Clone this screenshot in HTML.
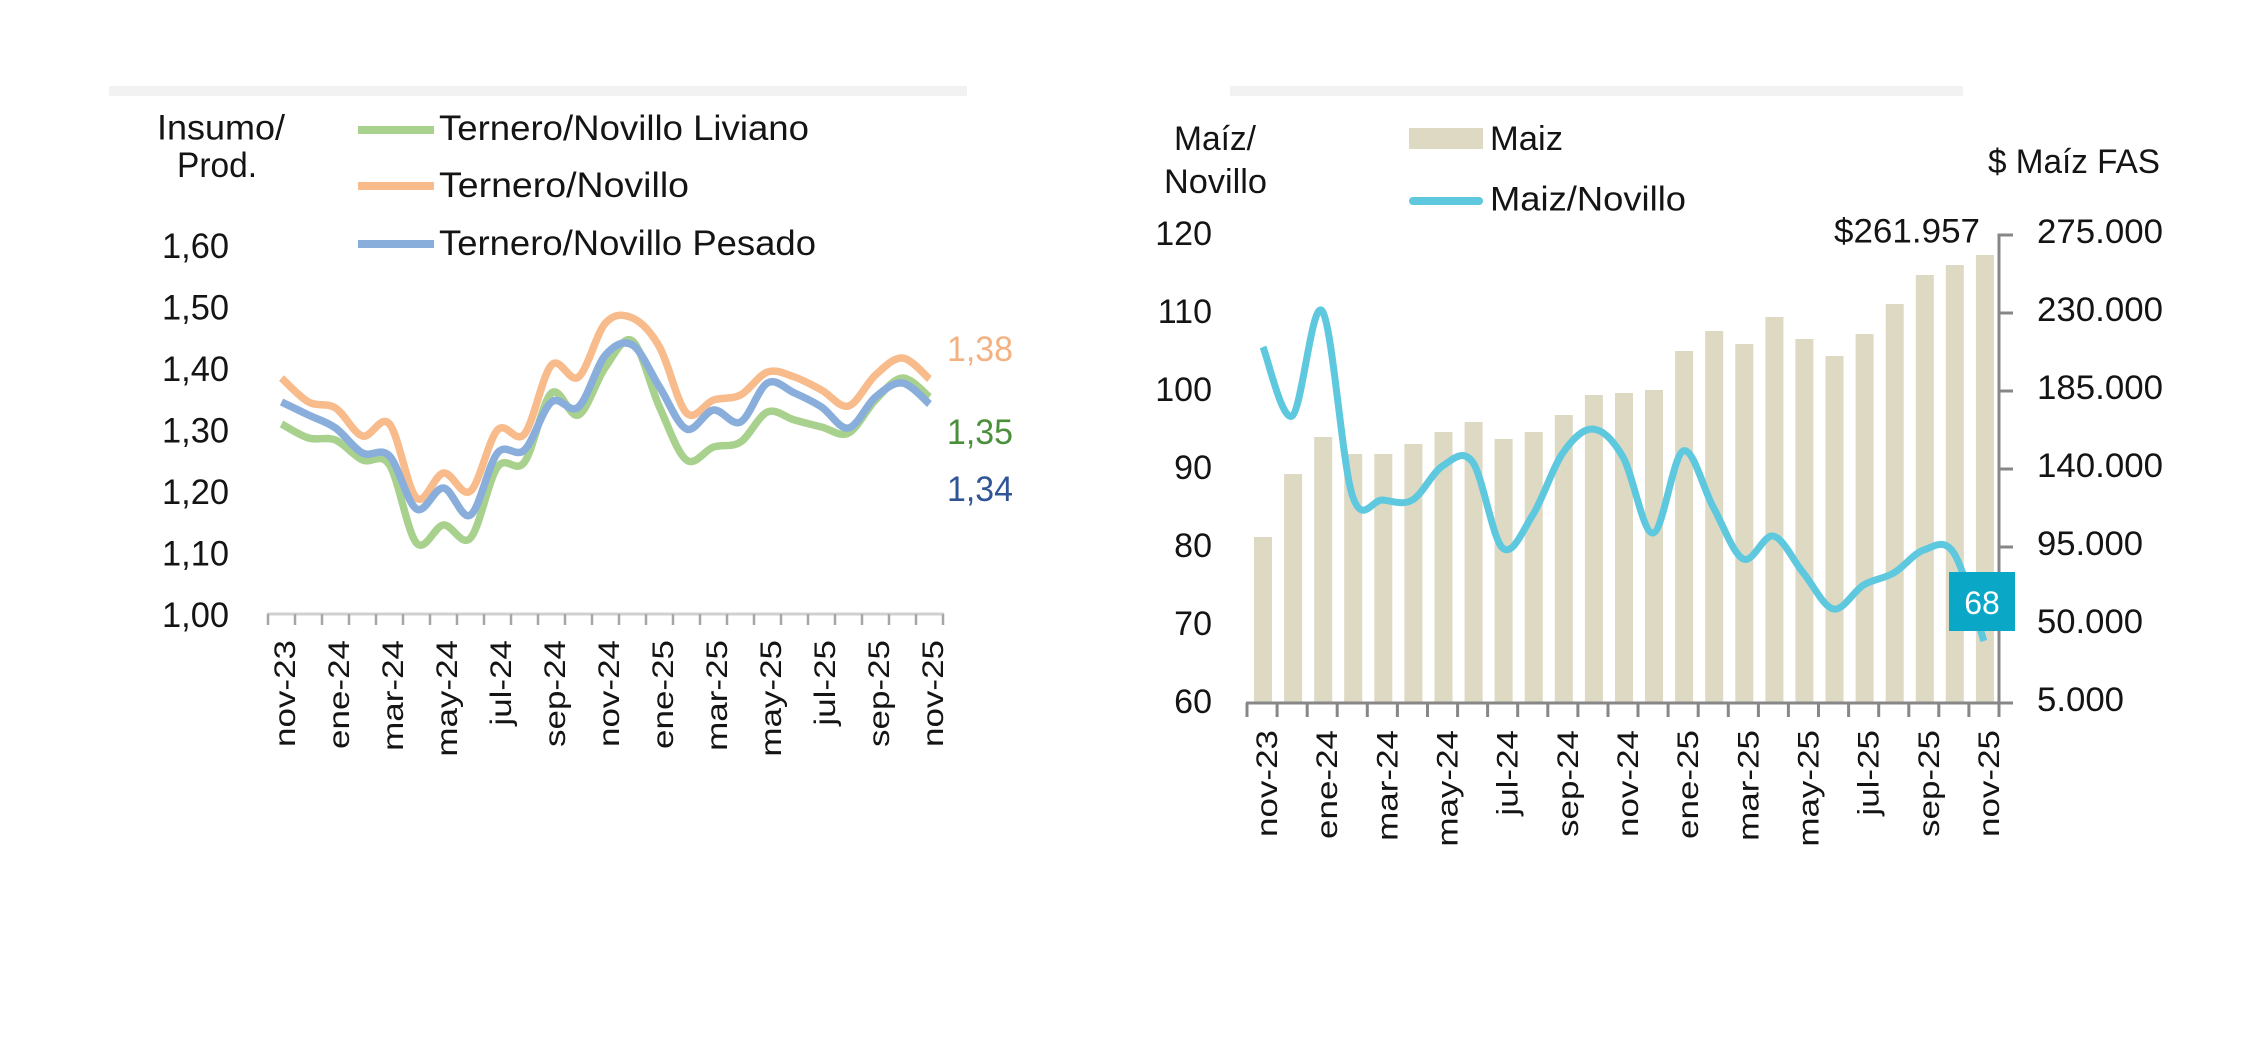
<!DOCTYPE html>
<html>
<head>
<meta charset="utf-8">
<style>
  html,body{margin:0;padding:0;background:#ffffff;}
  body{width:2250px;height:1056px;overflow:hidden;}
  svg{display:block;}
  text{font-family:"Liberation Sans",Arial,sans-serif;fill:#141414;}
</style>
</head>
<body>
<svg width="2250" height="1056" viewBox="0 0 2250 1056" xmlns="http://www.w3.org/2000/svg">
  <rect x="0" y="0" width="2250" height="1056" fill="#ffffff"/>

  <!-- ================= LEFT CHART ================= -->
  <rect x="109" y="86" width="858" height="10" fill="#f2f2f2"/>

  <text x="221" y="139.5" font-size="35" text-anchor="middle" textLength="128" lengthAdjust="spacingAndGlyphs">Insumo/</text>
  <text x="217" y="177" font-size="35" text-anchor="middle" textLength="80" lengthAdjust="spacingAndGlyphs">Prod.</text>

  <!-- legend -->
  <line x1="358" y1="130" x2="434" y2="130" stroke="#a9d18e" stroke-width="8"/>
  <line x1="358" y1="186" x2="434" y2="186" stroke="#f8bb8c" stroke-width="8"/>
  <line x1="358" y1="244" x2="434" y2="244" stroke="#8aaedb" stroke-width="8"/>
  <text x="439" y="140" font-size="35" textLength="370" lengthAdjust="spacingAndGlyphs">Ternero/Novillo Liviano</text>
  <text x="439" y="197" font-size="35" textLength="250" lengthAdjust="spacingAndGlyphs">Ternero/Novillo</text>
  <text x="439" y="255" font-size="35" textLength="377" lengthAdjust="spacingAndGlyphs">Ternero/Novillo Pesado</text>

  <!-- y labels -->
  <g font-size="35" text-anchor="end">
    <text x="229" y="258" textLength="67" lengthAdjust="spacingAndGlyphs">1,60</text>
    <text x="229" y="319.5" textLength="67" lengthAdjust="spacingAndGlyphs">1,50</text>
    <text x="229" y="381" textLength="67" lengthAdjust="spacingAndGlyphs">1,40</text>
    <text x="229" y="442.5" textLength="67" lengthAdjust="spacingAndGlyphs">1,30</text>
    <text x="229" y="504" textLength="67" lengthAdjust="spacingAndGlyphs">1,20</text>
    <text x="229" y="565.5" textLength="67" lengthAdjust="spacingAndGlyphs">1,10</text>
    <text x="229" y="627" textLength="67" lengthAdjust="spacingAndGlyphs">1,00</text>
  </g>

  <!-- end labels -->
  <text x="947" y="361" font-size="35" style="fill:#f4b183" textLength="66" lengthAdjust="spacingAndGlyphs">1,38</text>
  <text x="947" y="444" font-size="35" style="fill:#4a8f3a" textLength="66" lengthAdjust="spacingAndGlyphs">1,35</text>
  <text x="947" y="501" font-size="35" style="fill:#2f5597" textLength="66" lengthAdjust="spacingAndGlyphs">1,34</text>

  <!-- x axis -->
  <line x1="267" y1="614" x2="944" y2="614" stroke="#d0d0d0" stroke-width="3"/>
  <path d="M268 614V625M295 614V625M322 614V625M349 614V625M376 614V625M403 614V625M430 614V625M457 614V625M484 614V625M511 614V625M538 614V625M565 614V625M592 614V625M619 614V625M646 614V625M673 614V625M700 614V625M727 614V625M754 614V625M781 614V625M808 614V625M835 614V625M862 614V625M889 614V625M916 614V625M943 614V625" stroke="#a6a6a6" stroke-width="2.5" fill="none"/>

  <g font-size="35" text-anchor="end">
    <text transform="translate(295,640) rotate(-90) scale(1,0.85)">nov-23</text>
    <text transform="translate(349,640) rotate(-90) scale(1,0.85)">ene-24</text>
    <text transform="translate(403,640) rotate(-90) scale(1,0.85)">mar-24</text>
    <text transform="translate(457,640) rotate(-90) scale(1,0.85)">may-24</text>
    <text transform="translate(511,640) rotate(-90) scale(1,0.85)">jul-24</text>
    <text transform="translate(565,640) rotate(-90) scale(1,0.85)">sep-24</text>
    <text transform="translate(619,640) rotate(-90) scale(1,0.85)">nov-24</text>
    <text transform="translate(673,640) rotate(-90) scale(1,0.85)">ene-25</text>
    <text transform="translate(727,640) rotate(-90) scale(1,0.85)">mar-25</text>
    <text transform="translate(781,640) rotate(-90) scale(1,0.85)">may-25</text>
    <text transform="translate(835,640) rotate(-90) scale(1,0.85)">jul-25</text>
    <text transform="translate(889,640) rotate(-90) scale(1,0.85)">sep-25</text>
    <text transform="translate(943,640) rotate(-90) scale(1,0.85)">nov-25</text>
  </g>

  <!-- series (smoothed by script) -->
  <polyline class="s" fill="none" stroke="#a9d18e" stroke-width="7.5" stroke-linejoin="round" stroke-linecap="butt"
    points="281.5,424 308.5,438 335.5,440 362.5,460 389.5,465 416.5,543 443.5,525 470.5,538 497.5,467 524.5,462 551.5,393 578.5,415 605.5,367 632.5,341 659.5,407 686.5,460 713.5,447 740.5,442 767.5,412 794.5,420 821.5,427 848.5,433 875.5,400 902.5,378 929.5,397"/>
  <polyline class="s" fill="none" stroke="#f8bb8c" stroke-width="7.5" stroke-linejoin="round" stroke-linecap="butt"
    points="281.5,378 308.5,402 335.5,408 362.5,436 389.5,424 416.5,498 443.5,473 470.5,491 497.5,430 524.5,434 551.5,365 578.5,377 605.5,323 632.5,318 659.5,347 686.5,413 713.5,400 740.5,395 767.5,372 794.5,377 821.5,390 848.5,406 875.5,375 902.5,358 929.5,379"/>
  <polyline class="s" fill="none" stroke="#8aaedb" stroke-width="7.5" stroke-linejoin="round" stroke-linecap="butt"
    points="281.5,402 308.5,415 335.5,428 362.5,453 389.5,456 416.5,509 443.5,488 470.5,515 497.5,453 524.5,450 551.5,402 578.5,407 605.5,355 632.5,345 659.5,387 686.5,429 713.5,410 740.5,422 767.5,383 794.5,393 821.5,407 848.5,428 875.5,397 902.5,383 929.5,404"/>

  <!-- ================= RIGHT CHART ================= -->
  <rect x="1230" y="86" width="733" height="10" fill="#f2f2f2"/>

  <text x="1215" y="150" font-size="34" text-anchor="middle" textLength="82" lengthAdjust="spacingAndGlyphs">Maíz/</text>
  <text x="1215.5" y="193" font-size="34" text-anchor="middle" textLength="103" lengthAdjust="spacingAndGlyphs">Novillo</text>

  <rect x="1409" y="128" width="74" height="21" fill="#ddd9c3"/>
  <text x="1490" y="150" font-size="34" textLength="73" lengthAdjust="spacingAndGlyphs">Maiz</text>
  <line x1="1413" y1="201" x2="1479" y2="201" stroke="#5ec8de" stroke-width="8" stroke-linecap="round"/>
  <text x="1490" y="210.5" font-size="34" textLength="196" lengthAdjust="spacingAndGlyphs">Maiz/Novillo</text>

  <text x="1988" y="173" font-size="34" textLength="172" lengthAdjust="spacingAndGlyphs">$ Maíz FAS</text>
  <text x="1834" y="242.5" font-size="34" textLength="146" lengthAdjust="spacingAndGlyphs">$261.957</text>

  <!-- left ticks labels -->
  <g font-size="34" text-anchor="end">
    <text x="1212" y="245">120</text>
    <text x="1212" y="323">110</text>
    <text x="1212" y="401">100</text>
    <text x="1212" y="479">90</text>
    <text x="1212" y="557">80</text>
    <text x="1212" y="635">70</text>
    <text x="1212" y="713">60</text>
  </g>
  <!-- right tick labels -->
  <g font-size="34">
    <text x="2037" y="243" textLength="126" lengthAdjust="spacingAndGlyphs">275.000</text>
    <text x="2037" y="321" textLength="126" lengthAdjust="spacingAndGlyphs">230.000</text>
    <text x="2037" y="399" textLength="126" lengthAdjust="spacingAndGlyphs">185.000</text>
    <text x="2037" y="477" textLength="126" lengthAdjust="spacingAndGlyphs">140.000</text>
    <text x="2037" y="555" textLength="106" lengthAdjust="spacingAndGlyphs">95.000</text>
    <text x="2037" y="633" textLength="106" lengthAdjust="spacingAndGlyphs">50.000</text>
    <text x="2037" y="711" textLength="87" lengthAdjust="spacingAndGlyphs">5.000</text>
  </g>

  <!-- bars -->
  <g fill="#ddd9c3">
    <rect x="1254" y="537" width="18" height="165"/>
    <rect x="1284.1" y="474" width="18" height="228"/>
    <rect x="1314.2" y="437" width="18" height="265"/>
    <rect x="1344.2" y="454" width="18" height="248"/>
    <rect x="1374.3" y="454" width="18" height="248"/>
    <rect x="1404.4" y="444" width="18" height="258"/>
    <rect x="1434.5" y="432" width="18" height="270"/>
    <rect x="1464.6" y="422" width="18" height="280"/>
    <rect x="1494.6" y="439" width="18" height="263"/>
    <rect x="1524.7" y="432" width="18" height="270"/>
    <rect x="1554.8" y="415" width="18" height="287"/>
    <rect x="1584.9" y="395" width="18" height="307"/>
    <rect x="1615" y="393" width="18" height="309"/>
    <rect x="1645" y="390" width="18" height="312"/>
    <rect x="1675.1" y="351" width="18" height="351"/>
    <rect x="1705.2" y="331" width="18" height="371"/>
    <rect x="1735.3" y="344" width="18" height="358"/>
    <rect x="1765.4" y="317" width="18" height="385"/>
    <rect x="1795.4" y="339" width="18" height="363"/>
    <rect x="1825.5" y="356" width="18" height="346"/>
    <rect x="1855.6" y="334" width="18" height="368"/>
    <rect x="1885.7" y="304" width="18" height="398"/>
    <rect x="1915.8" y="275" width="18" height="427"/>
    <rect x="1945.8" y="265" width="18" height="437"/>
    <rect x="1975.9" y="255" width="18" height="447"/>
  </g>

  <!-- axes -->
  <line x1="1246" y1="703" x2="2000.5" y2="703" stroke="#878787" stroke-width="3"/>
  <path d="M1247 703V717M1277.1 703V717M1307.2 703V717M1337.2 703V717M1367.3 703V717M1397.4 703V717M1427.5 703V717M1457.6 703V717M1487.6 703V717M1517.7 703V717M1547.8 703V717M1577.9 703V717M1608 703V717M1638 703V717M1668.1 703V717M1698.2 703V717M1728.3 703V717M1758.4 703V717M1788.4 703V717M1818.5 703V717M1848.6 703V717M1878.7 703V717M1908.8 703V717M1938.8 703V717M1968.9 703V717M1999 703V717" stroke="#878787" stroke-width="3" fill="none"/>
  <line x1="1999" y1="233.5" x2="1999" y2="704.5" stroke="#878787" stroke-width="3"/>
  <path d="M1999 235H2013M1999 313H2013M1999 391H2013M1999 469H2013M1999 547H2013M1999 625H2013M1999 703H2013" stroke="#878787" stroke-width="3" fill="none"/>

  <!-- x labels -->
  <g font-size="35" text-anchor="end">
    <text transform="translate(1277,730) rotate(-90) scale(1,0.85)">nov-23</text>
    <text transform="translate(1337.2,730) rotate(-90) scale(1,0.85)">ene-24</text>
    <text transform="translate(1397.3,730) rotate(-90) scale(1,0.85)">mar-24</text>
    <text transform="translate(1457.5,730) rotate(-90) scale(1,0.85)">may-24</text>
    <text transform="translate(1517.6,730) rotate(-90) scale(1,0.85)">jul-24</text>
    <text transform="translate(1577.8,730) rotate(-90) scale(1,0.85)">sep-24</text>
    <text transform="translate(1638,730) rotate(-90) scale(1,0.85)">nov-24</text>
    <text transform="translate(1698.1,730) rotate(-90) scale(1,0.85)">ene-25</text>
    <text transform="translate(1758.3,730) rotate(-90) scale(1,0.85)">mar-25</text>
    <text transform="translate(1818.4,730) rotate(-90) scale(1,0.85)">may-25</text>
    <text transform="translate(1878.6,730) rotate(-90) scale(1,0.85)">jul-25</text>
    <text transform="translate(1938.8,730) rotate(-90) scale(1,0.85)">sep-25</text>
    <text transform="translate(1998.9,730) rotate(-90) scale(1,0.85)">nov-25</text>
  </g>

  <!-- line series -->
  <polyline class="s" fill="none" stroke="#5ec8de" stroke-width="7" stroke-linejoin="round" stroke-linecap="butt"
    points="1263,347 1292.1,416 1322.2,311 1352.2,495 1382.3,500 1412.4,500 1442.5,466 1472.6,462 1502.6,548 1532.7,515 1562.8,453 1592.9,429 1623,457 1653,533 1683.1,451 1713.2,507 1743.3,559 1773.4,536 1803.4,573 1833.5,609 1863.6,585 1893.7,573 1923.8,550 1953.8,553 1983.9,641"/>

  <!-- data label 68 -->
  <rect x="1949" y="572" width="66" height="59" fill="#0aa8c6"/>
  <text x="1982" y="614" font-size="32" text-anchor="middle" style="fill:#ffffff">68</text>
</svg>
<script>
(function(){
  var NS='http://www.w3.org/2000/svg';
  var pls=document.querySelectorAll('polyline.s');
  for(var k=0;k<pls.length;k++){
    var pl=pls[k];
    var raw=pl.getAttribute('points').trim().split(/\s+/);
    var pts=raw.map(function(p){var a=p.split(',');return [parseFloat(a[0]),parseFloat(a[1])];});
    var d='M'+pts[0][0]+','+pts[0][1];
    for(var i=0;i<pts.length-1;i++){
      var p0=pts[i-1]||pts[i],p1=pts[i],p2=pts[i+1],p3=pts[i+2]||pts[i+1];
      var c1x=p1[0]+(p2[0]-p0[0])/6,c1y=p1[1]+(p2[1]-p0[1])/6;
      var c2x=p2[0]-(p3[0]-p1[0])/6,c2y=p2[1]-(p3[1]-p1[1])/6;
      d+=' C'+c1x.toFixed(2)+','+c1y.toFixed(2)+' '+c2x.toFixed(2)+','+c2y.toFixed(2)+' '+p2[0]+','+p2[1];
    }
    var path=document.createElementNS(NS,'path');
    path.setAttribute('d',d);
    ['fill','stroke','stroke-width','stroke-linejoin','stroke-linecap'].forEach(function(a){
      if(pl.getAttribute(a)!==null) path.setAttribute(a,pl.getAttribute(a));
    });
    pl.parentNode.replaceChild(path,pl);
  }
})();
</script>
</body>
</html>
